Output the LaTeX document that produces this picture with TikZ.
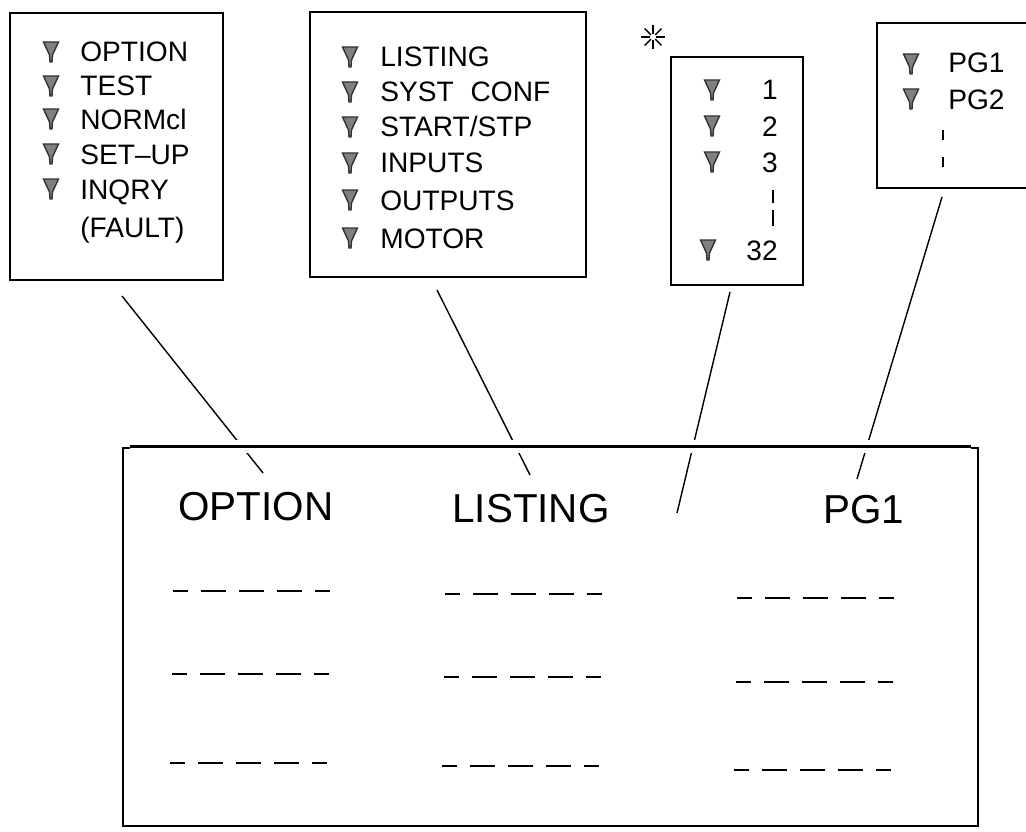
\documentclass[tikz,border=0pt]{standalone}
\usepackage{fontspec}
\setmainfont{Liberation Sans}
\tikzset{panel/.style = {draw, line width = 1.6pt, inner sep = 0pt}}
\tikzset{entry/.style = {anchor = base west, inner sep = 0pt, font = \fontsize{16}{19}\selectfont}}
\tikzset{numeral/.style = {anchor = base east, inner sep = 0pt, font = \fontsize{16}{19}\selectfont}}
\tikzset{heading/.style = {anchor = base west, inner sep = 0pt, font = \fontsize{23}{27}\selectfont}}
\tikzset{link/.style = {line width = 0.8pt}}
\tikzset{blank/.style = {line width = 1.4pt, dash pattern = on 0.5cm off 0.26cm, dash phase = 0.2cm}}
\tikzset{flag/.pic = {\filldraw[fill = black!50, draw = black!80, line width = 0.8pt]
	(-7.5,-10) -- (7.5,-10) -- (1.5,3) -- (1,10) -- (-1,10) -- (-1.5,3) -- cycle;}}

\begin{document}
\begin{tikzpicture}[x = 0.02cm, y = -0.02cm]
			\useasboundingbox (0,0) rectangle (1026,831);
			\clip (0,0) rectangle (1026,831);

			\node[panel, minimum width = 4.26cm, minimum height = 5.34cm] (optbox) at (116.5,146.5) {};
			\pic at (51,52) {flag};
			\pic at (51,86) {flag};
			\pic at (51,119) {flag};
			\pic at (51,154) {flag};
			\pic at (51,189) {flag};
			\node[entry] (o1) at (80,62) {OPTION};
			\node[entry] (o2) at (80,96) {TEST};
			\node[entry] (o3) at (80,130) {NORMcl};
			\node[entry] (o4) at (80,165) {SET--UP};
			\node[entry] (o5) at (80,199) {INQRY};
			\node[entry] (o6) at (80,237) {(FAULT)};

			\node[panel, minimum width = 5.52cm, minimum height = 5.30cm] (lstbox) at (448,144.5) {};
			\pic at (350,57) {flag};
			\pic at (350,92) {flag};
			\pic at (350,127) {flag};
			\pic at (350,163) {flag};
			\pic at (350,200) {flag};
			\pic at (350,238) {flag};
			\node[entry] (l1) at (380,67) {LISTING};
			\node[entry] (l2) at (380,102) {SYST\hspace{0.6em}CONF};
			\node[entry] (l3) at (380,137) {START/STP};
			\node[entry] (l4) at (380,173) {INPUTS};
			\node[entry] (l5) at (380,210) {OUTPUTS};
			\node[entry] (l6) at (380,248) {MOTOR};

			\node[panel, minimum width = 2.64cm, minimum height = 4.56cm] (numbox) at (737,171) {};
			\pic at (712,90) {flag};
			\pic at (712,126) {flag};
			\pic at (712,162) {flag};
			\pic at (708,250) {flag};
			\node[numeral] (n1) at (778,100) {1};
			\node[numeral] (n2) at (778,137) {2};
			\node[numeral] (n3) at (778,173) {3};
			\node[numeral] (n32) at (778,260) {32};
			\draw[link] (773,190) -- (773,203);
			\draw[link] (773,210) -- (773,226);
			\foreach \a in {0,45,...,315}
				\draw[link] (653,37) +(\a:3) -- +(\a:12);

			\node[panel, minimum width = 3.36cm, minimum height = 3.30cm] (pgbox) at (961,105.5) {};
			\pic at (911,64) {flag};
			\pic at (911,99) {flag};
			\node[entry] (p1) at (948,73) {PG1};
			\node[entry] (p2) at (948,110) {PG2};
			\draw[link] (943,130) -- (943,140);
			\draw[link] (943,157) -- (943,167);

			\node[panel, minimum width = 17.10cm, minimum height = 7.56cm] (screen) at (550.5,637) {};
			\node[heading] (s1) at (178,520) {OPTION};
			\node[heading] (s2) at (452,522) {LISTING};
			\node[heading] (s3) at (823,523) {PG1};

			\draw[blank] (173,591) -- (330,591);
			\draw[blank] (172,674) -- (329,674);
			\draw[blank] (170,763) -- (327,763);
			\draw[blank] (445,594) -- (602,594);
			\draw[blank] (444,677) -- (601,677);
			\draw[blank] (442,766) -- (599,766);
			\draw[blank] (737,598) -- (894,598);
			\draw[blank] (736,682) -- (893,682);
			\draw[blank] (734,770) -- (891,770);

			\coordinate (a1) at (122,296);
			\coordinate (b1) at (263,473);
			\coordinate (a2) at (437,290);
			\coordinate (b2) at (530,475);
			\coordinate (a3) at (730,292);
			\coordinate (b3) at (677,513);
			\coordinate (a4) at (942,197);
			\coordinate (b4) at (857,479);

			\draw[link] (a1) -- (b1);
			\draw[link] (a2) -- (b2);
			\draw[link] (a3) -- (b3);
			\draw[link] (a4) -- (b4);
			\draw[line width = 1.6pt, preaction = {draw = white, line width = 7pt}]
				([xshift = 0.16cm]screen.north west) -- ([xshift = -0.16cm]screen.north east);
		\end{tikzpicture}
\end{document}
